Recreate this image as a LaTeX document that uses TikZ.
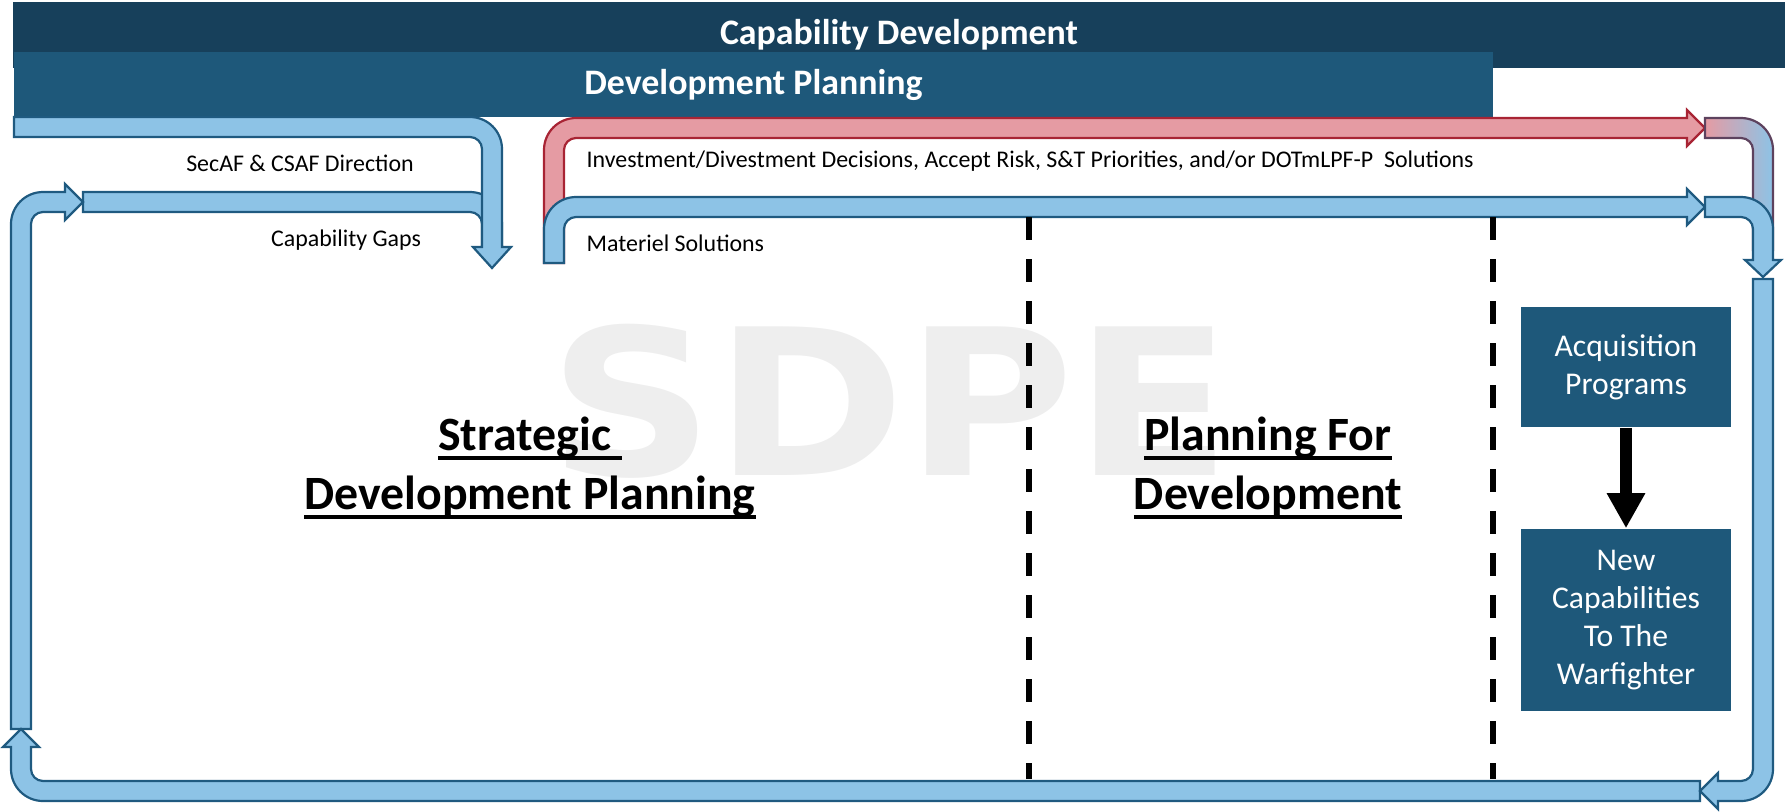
\documentclass[tikz,border=0pt]{standalone}
\usepackage{fontspec}
\setmainfont{Carlito}
\newfontfamily\markfont{DejaVu Sans}
\usetikzlibrary{arrows.meta}

\definecolor{capbar}{RGB}{23,64,91}
\definecolor{devbar}{RGB}{30,88,122}
\definecolor{bandfill}{RGB}{141,195,230}
\definecolor{bandline}{RGB}{31,90,128}
\definecolor{redfill}{RGB}{229,155,163}
\definecolor{redline}{RGB}{168,36,52}

\newcommand{\phaseul}[1]{\setbox0\hbox{#1}\rlap{\rule[-2.8pt]{\wd0}{1.1pt}}\box0}

\tikzstyle{bluearrow}=[fill=bandfill,draw=bandline,line width=0.022cm]
\tikzstyle{redarrow}=[fill=redfill,draw=redline,line width=0.022cm]
\tikzstyle{bar}=[text=white,inner sep=0pt,font=\fontsize{10.2}{12}\selectfont\bfseries]
\tikzstyle{note}=[inner sep=0pt,font=\fontsize{6.8}{8}\selectfont]
\tikzstyle{phase}=[align=center,font=\fontsize{13.6}{16.8}\selectfont\bfseries]
\tikzstyle{stage}=[fill=devbar,text=white,minimum width=2.1cm,align=center,font=\fontsize{9}{10.8}\selectfont]
\tikzstyle{divider}=[line width=0.06cm,dash pattern=on 0.23cm off 0.19cm]

\begin{document}
\begin{tikzpicture}[x=0.01cm,y=-0.01cm]
\useasboundingbox (0,0) rectangle (1787,811);
\node[text=gray!13,font=\markfont\bfseries\fontsize{58}{58}\selectfont,xscale=1.13] (mark) at (890,401) {SDPE};
% header bars
\node[bar,fill=capbar,minimum width=17.7cm,minimum height=0.66cm] (capdev) at (899,35) {Capability Development};
\node[bar,fill=devbar,minimum width=14.79cm,minimum height=0.65cm] (devplan) at (753.5,84.5) {Development Planning};
% left loop
\filldraw[bluearrow] (83,192) -- (470,192) arc[start angle=-90,end angle=0,radius=32] -- (502,250) -- (482,250) -- (482,224) arc[start angle=0,end angle=-90,radius=12] -- (83,212) -- cycle;
\filldraw[bluearrow] (14,117) -- (470,117) arc[start angle=-90,end angle=0,radius=32] -- (502,247) -- (511,247) -- (492,268) -- (473,247) -- (482,247) -- (482,149) arc[start angle=0,end angle=-90,radius=12] -- (14,137) -- cycle;
\filldraw[bluearrow] (11,729) -- (11,224) arc[start angle=180,end angle=270,radius=32] -- (65,192) -- (65,184) -- (83,202) -- (65,220) -- (65,212) -- (43,212) arc[start angle=270,end angle=180,radius=12] -- (31,729) -- cycle;
\filldraw[bluearrow] (1700,781) -- (1700,801) -- (43,801) arc[start angle=90,end angle=180,radius=32] -- (11,747) -- (3,747) -- (21,729) -- (39,747) -- (31,747) -- (31,769) arc[start angle=180,end angle=90,radius=12] -- cycle;
\filldraw[bluearrow] (1753,279) -- (1773,279) -- (1773,769) arc[start angle=0,end angle=90,radius=32] -- (1718,801) -- (1718,809) -- (1700,791) -- (1718,773) -- (1718,781) -- (1741,781) arc[start angle=90,end angle=0,radius=12] -- cycle;
% decisions and materiel
\filldraw[redarrow] (544,263) -- (544,150) arc[start angle=180,end angle=270,radius=32] -- (1687,118) -- (1687,110) -- (1705,128) -- (1687,146) -- (1687,138) -- (576,138) arc[start angle=270,end angle=180,radius=12] -- (564,263) -- cycle;
\filldraw[bluearrow] (544,263) -- (544,229) arc[start angle=180,end angle=270,radius=32] -- (1687,197) -- (1687,189) -- (1705,207) -- (1687,225) -- (1687,217) -- (576,217) arc[start angle=270,end angle=180,radius=12] -- (564,263) -- cycle;
\shadedraw[left color=redfill,right color=bandfill,draw=redline!45!bandline,line width=0.022cm] (1705,118) -- (1741,118) arc[start angle=270,end angle=360,radius=32] -- (1773,250) -- (1753,250) -- (1753,150) arc[start angle=0,end angle=-90,radius=12] -- (1705,138) -- cycle;
\filldraw[bluearrow] (1705,197) -- (1741,197) arc[start angle=270,end angle=360,radius=32] -- (1773,260) -- (1781,260) -- (1763,277) -- (1745,260) -- (1753,260) -- (1753,229) arc[start angle=0,end angle=-90,radius=12] -- (1705,217) -- cycle;
% phase dividers
\draw[divider] (1029,217) -- (1029,779);
\draw[divider] (1493,217) -- (1493,779);
% labels
\node[note] (secaf) at (300,163) {SecAF \& CSAF Direction};
\node[note] (gaps) at (346,240) {Capability Gaps};
\node[note,anchor=west] (decisions) at (586,161) {Investment/Divestment Decisions, Accept Risk, S\&T Priorities, and/or DOTmLPF-P~ Solutions};
\node[note,anchor=west] (materiel) at (586,243) {Materiel Solutions};
\node[phase] (sdp) at (530,468) {\phaseul{Strategic\ }\\\phaseul{Development Planning}};
\node[phase] (pfd) at (1268,468) {\phaseul{Planning For}\\\phaseul{Development}};
% acquisition
\node[stage,minimum height=1.2cm] (acq) at (1626,367) {Acquisition\\Programs};
\node[stage,minimum height=1.82cm] (newcap) at (1626,620) {New\\Capabilities\\To The\\Warfighter};
\draw[line width=0.12cm,-{Triangle[length=0.35cm,width=0.36cm]}] (acq) -- (newcap);
\end{tikzpicture}
\end{document}
